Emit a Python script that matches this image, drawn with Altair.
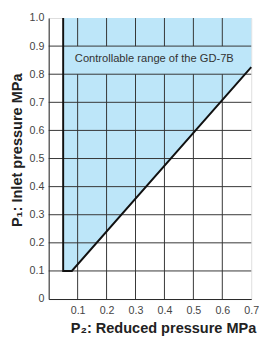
import altair as alt
import pandas as pd

# ---- data ----
x_ticks = [0.0, 0.1, 0.2, 0.3, 0.4, 0.5, 0.6, 0.7]
y_ticks = [0.0, 0.1, 0.2, 0.3, 0.4, 0.5, 0.6, 0.7, 0.8, 0.9, 1.0]

# lower boundary of the controllable region (P2, P1)
bound_p2 = [0.05, 0.08, 0.70]
bound_p1 = [0.10, 0.10, 0.825]
region_top = 1.0

# thick outline of the region
edge_p2 = [0.05, 0.05, 0.08, 0.70]
edge_p1 = [1.00, 0.10, 0.10, 0.825]

# vertical grid lines are interrupted by the label band
band_low = 0.8
band_high = 0.9

label_text = "Controllable range of the GD-7B"
label_p2 = 0.365
label_p1 = 0.853

x_title = "P\u2082: Reduced pressure MPa"
y_title = "P\u2081: Inlet pressure MPa"

FONT = "Liberation Sans"
BLUE = "#bde6f9"
GRID = "#333333"

xs = alt.Scale(domain=[0, 0.7], nice=False, zero=True)
ys = alt.Scale(domain=[0, 1.0], nice=False, zero=True)

x_axis = alt.Axis(
    values=x_ticks, grid=False, ticks=False, tickSize=0, domain=True,
    domainColor="#222", labelFont=FONT, labelFontSize=11, labelColor="#444",
    labelOverlap=False, labelBound=False, labelFlush=False,
    labelPadding=6, labelExpr="datum.value == 0 ? '' : format(datum.value, '.1f')",
    title=x_title, titleFont=FONT, titleFontSize=15, titleFontWeight="bold",
    titleColor="#222", titleX=118, titleY=35, titleBaseline="alphabetic",
    titleAlign="center", titleAnchor="start",
)
y_axis = alt.Axis(
    values=y_ticks, grid=False, ticks=False, tickSize=0, domain=True,
    domainColor="#222", labelFont=FONT, labelFontSize=11, labelColor="#444",
    labelOverlap=False, labelBound=False, labelFlush=False,
    labelPadding=5, labelExpr="datum.value == 0 ? '0' : format(datum.value, '.1f')",
    title=y_title, titleFont=FONT, titleFontSize=15, titleFontWeight="bold",
    titleColor="#222", titleX=-28, titleY=136, titleBaseline="alphabetic",
    titleAlign="center", titleAnchor="start", titleAngle=270,
)


def X(**kw):
    return alt.X(scale=xs, axis=x_axis, **kw)


def Y(**kw):
    return alt.Y(scale=ys, axis=y_axis, **kw)


region_df = pd.DataFrame({"p2": bound_p2, "p1": bound_p1, "top": [region_top] * len(bound_p2)})
edge_df = pd.DataFrame({"p2": edge_p2, "p1": edge_p1, "i": list(range(len(edge_p2)))})
vgrid_df = pd.DataFrame({"p2": x_ticks[1:-1]})
hgrid_df = pd.DataFrame({"p1": y_ticks[1:-1]})
label_df = pd.DataFrame({"p2": [label_p2], "p1": [label_p1], "t": [label_text]})

area = alt.Chart(region_df).mark_area(color=BLUE, opacity=1).encode(
    x=X(field="p2", type="quantitative"),
    y=Y(field="p1", type="quantitative"),
    y2="top:Q",
)

vgrid_low = alt.Chart(vgrid_df).mark_rule(color=GRID, strokeWidth=1).encode(
    x=X(field="p2", type="quantitative"),
    y=Y(datum=0.0),
    y2=alt.datum(band_low),
)
vgrid_high = alt.Chart(vgrid_df).mark_rule(color=GRID, strokeWidth=1).encode(
    x=X(field="p2", type="quantitative"),
    y=Y(datum=band_high),
    y2=alt.datum(1.0),
)
hgrid = alt.Chart(hgrid_df).mark_rule(color=GRID, strokeWidth=1).encode(
    y=Y(field="p1", type="quantitative"),
    x=X(datum=0.0),
    x2=alt.datum(0.7),
)

edge = alt.Chart(edge_df).mark_line(color="#111", strokeWidth=2, strokeJoin="miter").encode(
    x=X(field="p2", type="quantitative"),
    y=Y(field="p1", type="quantitative"),
    order="i:O",
)

label = alt.Chart(label_df).mark_text(
    font=FONT, fontSize=11.5, color="#333", align="center", baseline="middle"
).encode(
    x=X(field="p2", type="quantitative"),
    y=Y(field="p1", type="quantitative"),
    text="t:N",
)

chart = alt.layer(area, vgrid_low, vgrid_high, hgrid, edge, label).properties(
    width=209, height=290,
    padding={"left": 42, "top": 5, "right": 8, "bottom": 39},
    autosize="none",
).configure_view(stroke="#222", strokeWidth=1).configure(background="white")

chart.save("out.html", embed_options={"renderer": "svg", "actions": False})
